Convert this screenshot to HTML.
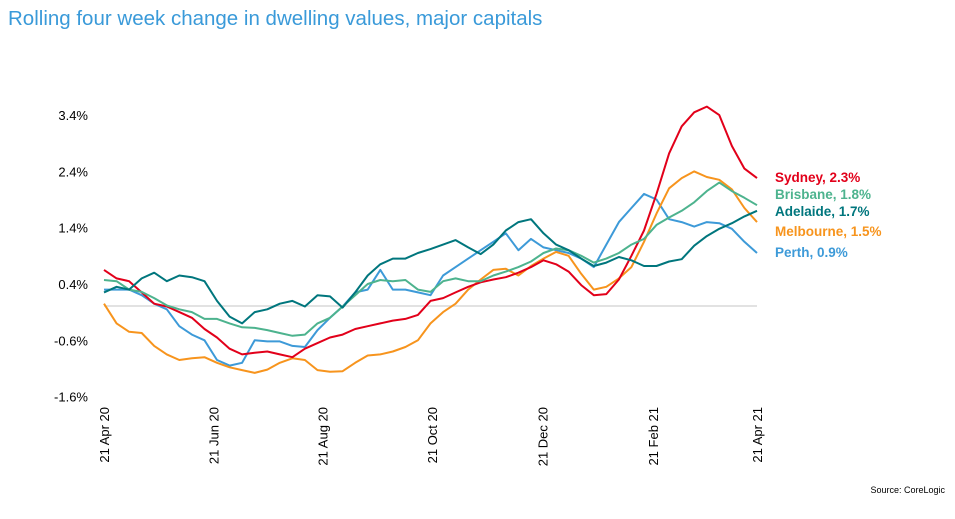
<!DOCTYPE html>
<html><head><meta charset="utf-8"><style>
body{margin:0;background:#fff;width:955px;height:519px;overflow:hidden;font-family:"Liberation Sans",sans-serif}
</style></head><body>
<svg width="955" height="519" style="position:absolute;left:0;top:0">
<text x="8" y="25" font-size="20.5" fill="#3a9ad9">Rolling four week change in dwelling values, major capitals</text>
<line x1="104" x2="757" y1="306" y2="306" stroke="#d9d9d9" stroke-width="1.5"/>
<g id="yt"></g><g id="xt"></g><g id="lines"></g><g id="leg"></g>
<text x="945" y="493" font-size="9" text-anchor="end" fill="#000">Source: CoreLogic</text>
</svg>
<script>
const yTicks=[3.4,2.4,1.4,0.4,-0.6,-1.6];
const xLabels=["21 Apr 20","21 Jun 20","21 Aug 20","21 Oct 20","21 Dec 20","21 Feb 21","21 Apr 21"];
const xLabelWeeks=[0,8.7,17.4,26.1,34.9,43.7,52];
const sydney=[0.65,0.5,0.45,0.25,0.05,0.0,-0.1,-0.2,-0.4,-0.55,-0.75,-0.85,-0.82,-0.8,-0.85,-0.9,-0.75,-0.65,-0.55,-0.5,-0.4,-0.35,-0.3,-0.25,-0.22,-0.15,0.1,0.15,0.25,0.35,0.43,0.48,0.52,0.6,0.7,0.82,0.75,0.62,0.38,0.2,0.22,0.48,0.9,1.35,2.0,2.72,3.2,3.45,3.55,3.4,2.85,2.45,2.28];
const brisbane=[0.47,0.45,0.3,0.26,0.15,0.02,-0.05,-0.1,-0.22,-0.22,-0.3,-0.37,-0.38,-0.42,-0.47,-0.52,-0.5,-0.3,-0.2,0.0,0.2,0.4,0.47,0.45,0.47,0.3,0.26,0.45,0.5,0.45,0.45,0.55,0.62,0.7,0.8,0.95,1.03,1.0,0.9,0.78,0.85,0.95,1.1,1.2,1.45,1.58,1.7,1.85,2.05,2.2,2.05,1.93,1.8];
const adelaide=[0.25,0.35,0.3,0.5,0.6,0.45,0.55,0.52,0.45,0.1,-0.18,-0.3,-0.1,-0.05,0.05,0.1,0.0,0.2,0.18,-0.02,0.25,0.55,0.75,0.85,0.85,0.95,1.02,1.1,1.18,1.05,0.93,1.1,1.35,1.5,1.55,1.3,1.1,1.0,0.85,0.72,0.78,0.88,0.82,0.72,0.72,0.8,0.84,1.08,1.25,1.38,1.48,1.6,1.7];
const melbourne=[0.05,-0.3,-0.45,-0.47,-0.7,-0.85,-0.95,-0.92,-0.9,-1.0,-1.08,-1.13,-1.18,-1.12,-1.0,-0.92,-0.95,-1.13,-1.16,-1.15,-1.0,-0.87,-0.85,-0.8,-0.72,-0.6,-0.3,-0.1,0.05,0.3,0.48,0.65,0.67,0.55,0.72,0.85,0.97,0.9,0.58,0.3,0.35,0.5,0.7,1.15,1.65,2.1,2.28,2.4,2.3,2.25,2.08,1.75,1.5];
const perth=[0.3,0.3,0.3,0.2,0.05,-0.05,-0.35,-0.5,-0.6,-0.95,-1.05,-1.0,-0.6,-0.62,-0.62,-0.7,-0.72,-0.42,-0.2,0.0,0.25,0.3,0.65,0.3,0.3,0.25,0.2,0.55,0.7,0.85,1.0,1.15,1.3,1.0,1.2,1.05,1.0,0.95,0.85,0.7,1.1,1.5,1.75,2.0,1.9,1.55,1.5,1.42,1.5,1.48,1.38,1.15,0.95];
const seriesNames=["Sydney","Brisbane","Adelaide","Melbourne","Perth"];
const seriesLabels=["Sydney, 2.3%","Brisbane, 1.8%","Adelaide, 1.7%","Melbourne, 1.5%","Perth, 0.9%"];
const NS="http://www.w3.org/2000/svg";
const X0=104,X1=757,NW=52;
function xs(w){return X0+(X1-X0)*w/NW;}
function ys(v){return 306.5-56.3*v;}
function mk(t,a,p){const e=document.createElementNS(NS,t);for(const k in a)e.setAttribute(k,a[k]);p.appendChild(e);return e;}
const yt=document.getElementById('yt');
yTicks.forEach(v=>{const t=mk('text',{x:88,y:ys(v)+5,'font-size':13,'text-anchor':'end',fill:'#000'},yt);


t.textContent=v.toFixed(1)+'%';});
const xt=document.getElementById('xt');
xLabels.forEach((l,i)=>{const x=xs(xLabelWeeks[i])+5;const t=mk('text',{x:x,y:407,'font-size':13,'text-anchor':'end',fill:'#000',transform:`rotate(-90 ${x} 407)`},xt);


t.textContent=l;});
const data=[sydney,brisbane,adelaide,melbourne,perth];
const colors=["#e2001a","#4db38e","#00767d","#f7941d","#3d9ad8"];
const lg=document.getElementById('lines');
const order=[4,3,0,1,2];
order.forEach(i=>{const d=data[i].map((v,k)=>(k?'L':'M')+xs(k).toFixed(1)+','+ys(v).toFixed(1)).join('');
const p=mk('path',{d:d,fill:'none',stroke:colors[i],'stroke-width':2,'stroke-linejoin':'round'},lg);

});
const legY=[182,199,216,236,257];
const leg=document.getElementById('leg');
seriesLabels.forEach((l,i)=>{const t=mk('text',{x:775,y:legY[i],'font-size':13.5,'font-weight':'bold',fill:colors[i]},leg);


t.textContent=l;});
</script>
</body></html>
